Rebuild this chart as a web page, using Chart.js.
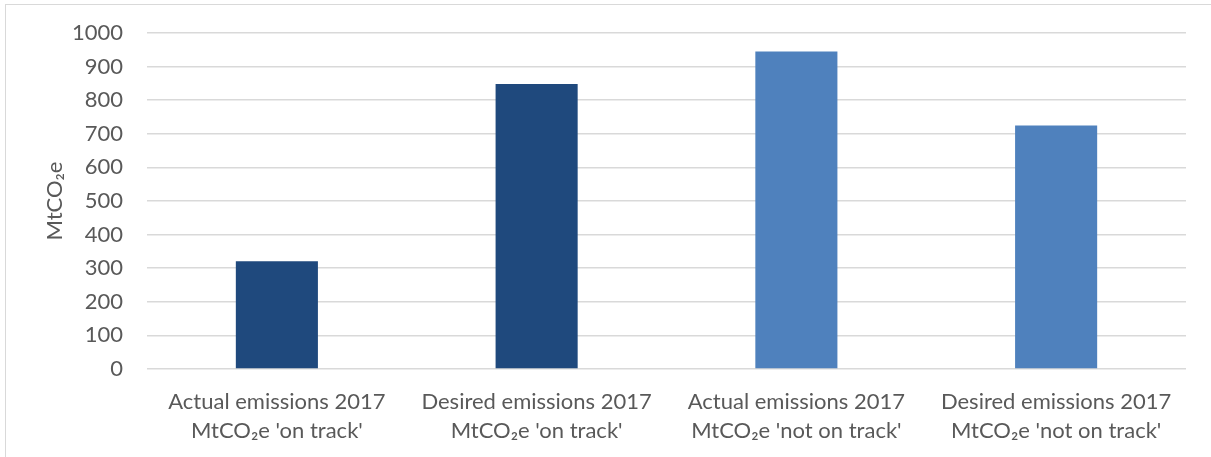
<!DOCTYPE html>
<html>
<head>
<meta charset="utf-8">
<script src="https://cdn.jsdelivr.net/npm/chart.js@4"></script>
<style>
  html, body { margin: 0; padding: 0; background: #fff; overflow: hidden; }
  #frame { position: absolute; left: 5px; top: 4px; width: 1210px; height: 470px;
           border: 1px solid #d9d9d9; box-sizing: border-box; }
  #wrap { position: absolute; left: 0; top: 0; width: 1205px; height: 452px; }
</style>
</head>
<body>
<div id="frame"><div id="wrap"><canvas id="chart"></canvas></div></div>
<script>
// emissions per scenario (MtCO2e)
const categories = [
  ['Actual emissions 2017', "MtCO\u2082e 'on track'"],
  ['Desired emissions 2017', "MtCO\u2082e 'on track'"],
  ['Actual emissions 2017', "MtCO\u2082e 'not on track'"],
  ['Desired emissions 2017', "MtCO\u2082e 'not on track'"]
];
const emissions = [321, 848, 945, 725];
const barColors = ['#1f497d', '#1f497d', '#4f81bd', '#4f81bd'];
const yTitle = 'MtCO\u2082e';

const FONT = 'Lato, "Noto Sans", sans-serif';
const TEXT = '#595959';
const GRID = '#d9d9d9';

new Chart(document.getElementById('chart'), {
  type: 'bar',
  data: {
    labels: categories,
    datasets: [{ data: emissions, backgroundColor: barColors, borderWidth: 0,
                 categoryPercentage: 1, barPercentage: 0.316 }]
  },
  options: {
    animation: false, responsive: true, maintainAspectRatio: false,
    layout: { padding: { left: 0, right: 25, top: 28, bottom: 0 } },
    plugins: { legend: { display: false }, tooltip: { enabled: false } },
    scales: {
      x: {
        grid: { display: false },
        border: { display: false },
        ticks: { color: TEXT, font: { family: FONT, size: 22, lineHeight: 1.3 }, padding: 11, maxRotation: 0, autoSkip: false },
        afterFit: s => { s.height = 88; }
      },
      y: {
        min: 0, max: 1000,
        // invisible tick marks keep the labels away from the grid without
        // inflating the top padding the way ticks.padding would
        grid: { color: GRID, lineWidth: 1.5, drawTicks: true, tickLength: 22, tickColor: 'rgba(0,0,0,0)' },
        border: { display: false },
        ticks: { stepSize: 100, color: TEXT, font: { family: FONT, size: 22 }, padding: 2,
                 callback: v => String(v) },
        title: { display: true, text: yTitle, color: TEXT, font: { family: FONT, size: 22 }, padding: { top: 36, bottom: 0 } },
        afterFit: s => { s.width = 141; }
      }
    }
  }
});
</script>
</body>
</html>
